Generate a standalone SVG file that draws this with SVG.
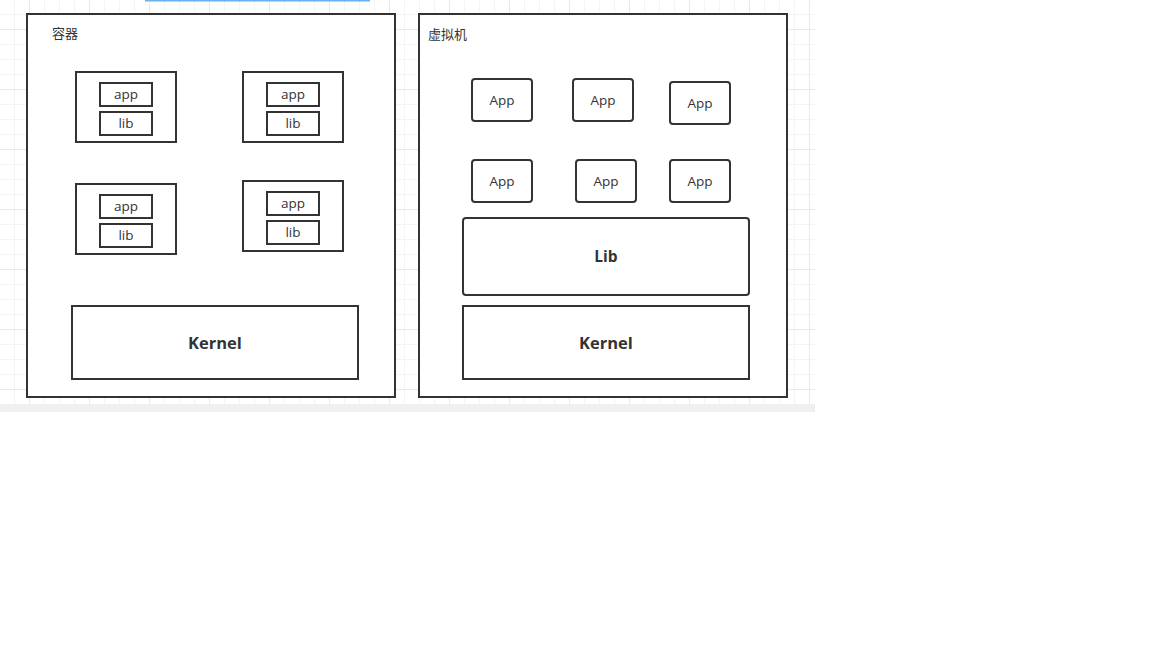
<svg xmlns="http://www.w3.org/2000/svg" width="1152" height="648" viewBox="0 0 1152 648">
  <defs>
    <pattern id="minor" x="-1" y="-1" width="15" height="15" patternUnits="userSpaceOnUse">
      <path d="M 15 0 L 0 0 0 15" fill="none" stroke="#e9e9e9" stroke-width="1"/>
    </pattern>
    <pattern id="major" x="-31" y="-31" width="60" height="60" patternUnits="userSpaceOnUse">
      <path d="M 60 0 L 0 0 0 60" fill="none" stroke="#dedede" stroke-width="1"/>
    </pattern>
  </defs>
  <style>
    .box { fill: #ffffff; stroke: #333333; stroke-width: 2; }
    .rbox { fill: #ffffff; stroke: #333333; stroke-width: 2; }
    .t { font-family: "Open Sans", "Noto Sans", "Noto Sans CJK SC", sans-serif; font-size: 13.5px; fill: #333333; text-anchor: middle; }
    .title { font-family: "Noto Sans CJK SC", "Noto Sans", sans-serif; font-size: 13px; fill: #333333; }
    .bold { font-family: "Open Sans", "Noto Sans", sans-serif; font-size: 16.5px; font-weight: bold; fill: #333333; text-anchor: middle; }
  </style>
  <rect width="1152" height="648" fill="#ffffff"/>
  <g id="background">
    <rect x="0" y="0" width="815" height="404" fill="url(#minor)"/>
    <rect x="0" y="0" width="815" height="404" fill="url(#major)"/>
    <rect x="0" y="404" width="815" height="8" fill="#f0f0f0"/>
    <rect x="145" y="0" width="225" height="1.5" fill="#6cb0ee"/>
  </g>

  <g id="container">
    <rect class="box" x="27" y="14" width="368" height="383"/>
    <text class="title" x="52" y="38">容器</text>
  </g>
  <g id="c-box1">
    <rect class="box" x="76" y="72" width="100" height="70"/>
    <rect class="box" x="100" y="83" width="52" height="23"/>
    <text class="t" x="126" y="99">app</text>
    <rect class="box" x="100" y="112" width="52" height="23"/>
    <text class="t" x="126" y="128">lib</text>
  </g>
  <g id="c-box2">
    <rect class="box" x="243" y="72" width="100" height="70"/>
    <rect class="box" x="267" y="83" width="52" height="23"/>
    <text class="t" x="293" y="99">app</text>
    <rect class="box" x="267" y="112" width="52" height="23"/>
    <text class="t" x="293" y="128">lib</text>
  </g>
  <g id="c-box3">
    <rect class="box" x="76" y="184" width="100" height="70"/>
    <rect class="box" x="100" y="195" width="52" height="23"/>
    <text class="t" x="126" y="211">app</text>
    <rect class="box" x="100" y="224" width="52" height="23"/>
    <text class="t" x="126" y="240">lib</text>
  </g>
  <g id="c-box4">
    <rect class="box" x="243" y="181" width="100" height="70"/>
    <rect class="box" x="267" y="192" width="52" height="23"/>
    <text class="t" x="293" y="208">app</text>
    <rect class="box" x="267" y="221" width="52" height="23"/>
    <text class="t" x="293" y="237">lib</text>
  </g>
  <g id="c-kernel">
    <rect class="box" x="72" y="306" width="286" height="73"/>
    <text class="bold" x="215" y="349">Kernel</text>
  </g>

  <g id="vm">
    <rect class="box" x="419" y="14" width="368" height="383"/>
    <text class="title" x="428" y="39">虚拟机</text>
  </g>
  <g id="vm-app1">
    <rect class="rbox" x="472" y="79" width="60" height="42" rx="3"/>
    <text class="t" x="502" y="105">App</text>
  </g>
  <g id="vm-app2">
    <rect class="rbox" x="573" y="79" width="60" height="42" rx="3"/>
    <text class="t" x="603" y="105">App</text>
  </g>
  <g id="vm-app3">
    <rect class="rbox" x="670" y="82" width="60" height="42" rx="3"/>
    <text class="t" x="700" y="108">App</text>
  </g>
  <g id="vm-app4">
    <rect class="rbox" x="472" y="160" width="60" height="42" rx="3"/>
    <text class="t" x="502" y="186">App</text>
  </g>
  <g id="vm-app5">
    <rect class="rbox" x="576" y="160" width="60" height="42" rx="3"/>
    <text class="t" x="606" y="186">App</text>
  </g>
  <g id="vm-app6">
    <rect class="rbox" x="670" y="160" width="60" height="42" rx="3"/>
    <text class="t" x="700" y="186">App</text>
  </g>
  <g id="vm-lib">
    <rect class="rbox" x="463" y="218" width="286" height="77" rx="3"/>
    <text class="bold" x="606" y="262" style="font-size:15.5px">Lib</text>
  </g>
  <g id="vm-kernel">
    <rect class="box" x="463" y="306" width="286" height="73"/>
    <text class="bold" x="606" y="349">Kernel</text>
  </g>
  <g id="connectors"></g>
</svg>
